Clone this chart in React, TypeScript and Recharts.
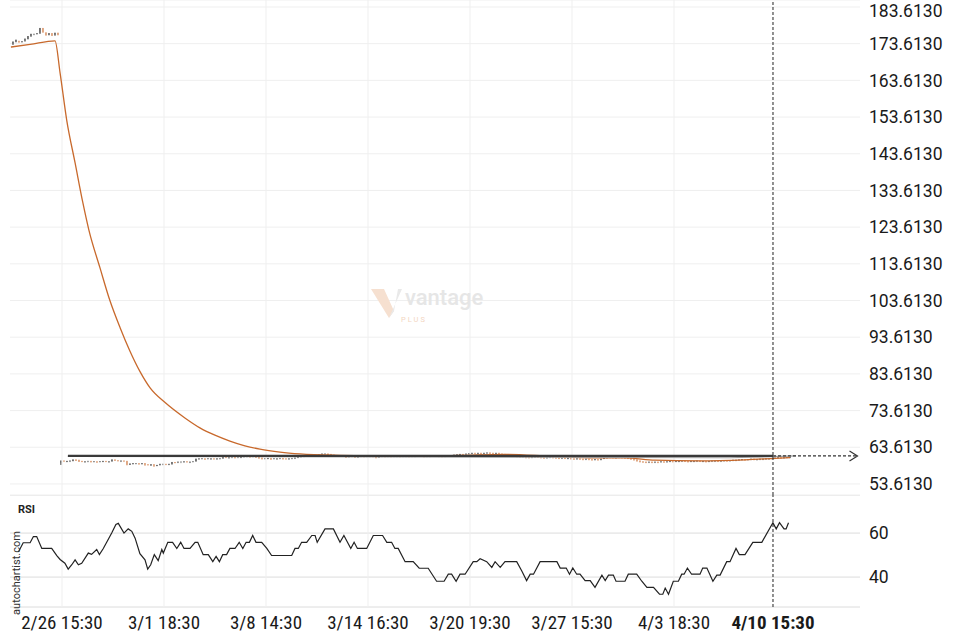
import React from "react";
import {
  ComposedChart,
  Bar,
  Line,
  XAxis,
  YAxis,
  CartesianGrid,
  ReferenceLine,
  ReferenceDot,
} from "recharts";

// hourly bars, index 1..260; axis runs a bit past the last bar for the projection
const barSpan = 283.33;
const lastBar = 254.33;

const timeTicks = [17.33, 51.33, 85.33, 119.33, 153.33, 187.33, 221.33, 254.33];
const timeLabels = [
  "2/26 15:30",
  "3/1 18:30",
  "3/8 14:30",
  "3/14 16:30",
  "3/20 19:30",
  "3/27 15:30",
  "4/3 18:30",
  "4/10 15:30",
];

const priceTicks = [
  53.613, 63.613, 73.613, 83.613, 93.613, 103.613, 113.613, 123.613, 133.613, 143.613, 153.613,
  163.613, 173.613, 183.613,
];
const priceDomain = [50.6, 185.52];

// opens of the first session, before the price gap
const firstOpens = [
  173.9, 174.2, 174.4, 174.1, 174.5, 174.9, 175.8, 176.2, 176.3, 176.6, 177.9, 176.7, 176.2, 176.5,
  176.1, 176.6,
];
const gapOpen = 59.4;

const closes = [
  174.2, 174.7, 174.1, 174.3, 175.0, 175.7, 176.3, 176.3, 176.5, 177.9, 176.8, 176.0, 176.5, 175.9,
  176.6, 176.1,
  60.0, 59.9, 59.9, 60.0, 60.3, 60.2, 59.9, 59.8, 59.8, 59.9,
  59.8, 59.8, 59.7, 59.8, 59.9, 59.8, 59.8, 60.3, 60.1, 60.0,
  60.0, 59.9, 58.9, 59.2, 59.3, 59.3, 59.2, 59.3, 59.0, 58.9,
  59.0, 58.6, 58.8, 59.1, 59.1, 59.0, 59.1, 59.6, 59.5, 59.7,
  59.7, 59.8, 59.7, 59.7, 59.8, 60.5, 60.6, 60.6, 60.5, 60.6,
  60.6, 60.5, 60.6, 60.6, 61.0, 60.9, 60.9, 61.0, 60.9, 61.0,
  61.0, 61.2, 61.2, 61.1, 61.2, 61.0, 60.8, 60.6, 60.6, 60.7,
  60.5, 60.6, 60.6, 60.7, 60.6, 60.5, 60.6, 60.7, 60.8, 61.0,
  61.2, 61.3, 61.5, 61.4, 61.5, 61.5, 61.7, 61.9, 61.9, 61.8,
  61.6, 61.5, 61.5, 61.4, 61.3, 61.1, 61.2, 61.3, 61.0, 61.1,
  61.3, 61.2, 61.3, 61.3, 61.2, 60.9, 61.1, 61.3, 61.2, 61.3,
  61.2, 61.3, 61.3, 61.2, 61.3, 61.3, 61.2, 61.3, 61.3, 61.4,
  61.3, 61.2, 61.3, 61.3, 61.4, 61.3, 61.3, 61.2, 61.3, 61.4,
  61.5, 61.6, 61.7, 61.8, 61.7, 61.9, 62.0, 62.1, 62.0, 62.1,
  61.9, 62.1, 62.2, 62.1, 62.0, 62.1, 61.9, 61.8, 61.7, 61.6,
  61.5, 61.3, 61.2, 61.1, 61.2, 61.0, 60.9, 61.0, 61.1, 61.0,
  60.9, 60.8, 60.9, 61.0, 60.9, 60.8, 60.7, 60.8, 60.7, 60.7,
  60.6, 60.5, 60.6, 60.5, 60.4, 60.5, 60.4, 60.3, 60.4, 60.3,
  60.5, 60.8, 60.9, 61.0, 60.9, 60.9, 61.0, 60.9, 60.8, 60.7,
  60.5, 60.3, 60.0, 59.8, 59.7, 59.6, 59.7, 59.6, 59.7, 59.6,
  59.8, 59.7, 59.8, 59.9, 59.8, 59.9, 59.9, 60.0, 59.9, 59.8,
  59.9, 59.9, 60.0, 59.9, 59.9, 59.8, 59.9, 60.0, 60.0, 59.9,
  60.0, 60.1, 60.0, 60.1, 60.2, 60.2, 60.3, 60.4, 60.3, 60.4,
  60.5, 60.4, 60.4, 60.5, 60.5, 60.6, 60.6, 60.7, 60.8, 60.9,
  60.8, 60.9, 61.0, 61.0,
];

const lows = [
  173.3, 174.0, 173.9, 174.0, 174.2, 174.8, 175.5, 176.1, 176.2, 176.3, 176.6, 175.8, 175.9, 175.7,
  175.8, 175.9,
  58.8, 59.7, 59.6, 59.7, 59.8, 59.9, 59.6, 59.6, 59.5, 59.7,
  59.5, 59.6, 59.4, 59.6, 59.6, 59.6, 59.5, 59.7, 59.9, 59.8,
  59.7, 59.7, 58.7, 58.8, 59.0, 59.1, 58.9, 59.0, 58.6, 58.7,
  58.6, 58.3, 58.5, 58.7, 58.9, 58.8, 58.8, 58.9, 59.3, 59.4,
  59.5, 59.5, 59.5, 59.4, 59.6, 59.7, 60.3, 60.4, 60.2, 60.4,
  60.3, 60.3, 60.3, 60.4, 60.5, 60.7, 60.6, 60.8, 60.6, 60.8,
  60.7, 60.9, 61.0, 60.8, 61.0, 60.7, 60.5, 60.3, 60.4, 60.4,
  60.2, 60.4, 60.3, 60.5, 60.3, 60.3, 60.3, 60.5, 60.5, 60.7,
  60.9, 61.0, 61.2, 61.1, 61.2, 61.3, 61.4, 61.6, 61.7, 61.5,
  61.3, 61.2, 61.3, 61.0, 61.0, 60.7, 60.9, 61.0, 60.7, 60.8,
  61.0, 60.9, 61.0, 61.1, 60.9, 60.6, 60.8, 61.0, 60.9, 61.1,
  60.9, 61.0, 61.1, 60.9, 61.0, 61.1, 60.9, 61.0, 61.1, 61.1,
  61.0, 60.9, 61.0, 61.1, 61.1, 61.0, 61.1, 60.9, 61.0, 61.2,
  61.2, 61.3, 61.4, 61.5, 61.5, 61.6, 61.7, 61.8, 61.8, 61.8,
  61.6, 61.8, 61.9, 61.8, 61.7, 61.8, 61.6, 61.5, 61.4, 61.3,
  61.2, 61.0, 60.9, 60.8, 60.9, 60.6, 60.6, 60.7, 60.8, 60.7,
  60.6, 60.5, 60.6, 60.7, 60.6, 60.5, 60.4, 60.5, 60.4, 60.4,
  60.3, 60.2, 60.3, 60.2, 60.1, 60.2, 60.1, 60.0, 60.1, 60.0,
  60.1, 60.4, 60.6, 60.7, 60.6, 60.6, 60.7, 60.6, 60.5, 60.4,
  60.2, 60.0, 59.7, 59.5, 59.4, 59.3, 59.4, 59.3, 59.4, 59.3,
  59.5, 59.4, 59.5, 59.6, 59.5, 59.6, 59.6, 59.7, 59.6, 59.5,
  59.6, 59.6, 59.7, 59.6, 59.6, 59.5, 59.6, 59.7, 59.7, 59.6,
  59.7, 59.8, 59.7, 59.8, 59.9, 59.9, 60.0, 60.1, 60.0, 60.1,
  60.2, 60.1, 60.1, 60.2, 60.2, 60.3, 60.3, 60.4, 60.5, 60.6,
  60.5, 60.6, 60.7, 60.7,
];

// moving average (orange)
const emaBars = [
  0.3, 6.7, 15, 16.7, 18.9, 21.7, 24.3, 26.3, 30, 33.3, 36.7, 40, 43.3, 46.7, 51.7, 58.3, 63.3,
  68.3, 73.3, 78.3, 83.3, 90, 96.7, 110, 130, 150, 165, 180, 195, 205, 215, 230, 245, 255, 260,
];
const emaValues = [
  172.7, 173.4, 174.4, 165.6, 152.8, 141.1, 130.2, 122.8, 112.5, 103.6, 96.2, 89.8, 84.3, 79.8,
  75.8, 71.6, 68.9, 66.9, 65.3, 64.0, 63.1, 62.3, 61.8, 61.4, 61.2, 61.4, 61.7, 61.2, 60.7, 60.7,
  60.1, 59.9, 60.2, 60.6, 60.8,
];

// resistance line + projection
const trendLevel = 61.25;
const trendStart = 19.3;
const trendEnd = 282.5;
const supportBars = [19.3, 240, 262];
const supportValues = [61.15, 60.75, 61.25];

const rsiBars = [
  2.8, 4.4, 6.7, 7.8, 8.9, 10.6, 13.9, 15.6, 16.7, 18.3,
  19.4, 20.6, 21.7, 22.8, 23.9, 26.1, 27.2, 28.9, 29.8, 31.1,
  33.9, 35.3, 36.1, 38.0, 39.4, 40.6, 41.7, 43.3, 45.0, 45.9,
  46.9, 48.1, 49.4, 50.6, 51.1, 52.6, 54.2, 55.6, 56.9, 58.0,
  60.0, 61.7, 62.6, 64.4, 66.1, 67.6, 68.7, 69.8, 70.9, 72.2,
  73.3, 75.0, 76.4, 77.6, 78.7, 79.8, 80.9, 82.0, 83.9, 85.6,
  87.2, 93.9, 95.0, 96.1, 97.2, 98.9, 100.6, 101.7, 102.4, 105.0,
  107.8, 110.0, 111.3, 113.6, 114.7, 115.8, 118.9, 121.1, 124.2, 125.6,
  127.2, 128.3, 129.4, 131.7, 134.4, 136.4, 139.4, 142.2, 144.7, 146.1,
  147.2, 148.7, 150.0, 151.7, 154.4, 155.6, 156.7, 158.9, 160.6, 161.7,
  163.4, 165.0, 168.9, 170.6, 172.2, 173.4, 174.5, 176.7, 182.3, 183.4,
  185.4, 186.5, 187.6, 188.9, 190.0, 191.7, 193.4, 195.0, 197.3, 198.4,
  199.5, 201.1, 202.0, 205.0, 206.1, 208.9, 210.6, 212.3, 214.5, 216.5,
  217.6, 218.4, 219.5, 221.1, 222.8, 223.9, 224.7, 225.8, 227.2, 230.0,
  230.9, 232.3, 234.3, 235.6, 236.7, 238.9, 240.0, 242.0, 243.1, 245.0,
  247.6, 250.6, 254.3, 255.4, 256.5, 258.0, 258.7, 259.5,
];
const rsiValues = [
  51.4, 55.6, 55.6, 58.4, 58.4, 53.0, 53.0, 49.8, 48.0, 46.3,
  43.6, 45.6, 47.8, 45.6, 46.3, 50.9, 50.3, 52.5, 50.2, 53.0,
  60.0, 63.9, 64.4, 60.0, 61.9, 60.8, 57.7, 50.6, 47.8, 43.6,
  45.6, 50.2, 47.5, 52.5, 50.9, 55.8, 55.8, 53.0, 55.8, 53.0,
  53.0, 55.8, 55.8, 50.2, 50.2, 47.0, 49.4, 47.0, 50.2, 50.2,
  53.0, 53.0, 55.8, 53.0, 55.8, 55.8, 58.9, 55.8, 55.8, 53.0,
  49.8, 49.8, 53.0, 53.0, 55.8, 55.8, 58.9, 58.9, 55.8, 61.9,
  61.9, 55.8, 58.9, 53.0, 55.8, 53.0, 53.0, 58.9, 58.9, 55.8,
  55.8, 53.0, 53.0, 47.0, 47.0, 44.0, 44.0, 38.1, 38.1, 41.3,
  41.3, 38.1, 41.3, 41.3, 47.0, 47.0, 48.3, 47.0, 44.4, 47.0,
  44.4, 47.0, 47.0, 42.8, 38.4, 41.3, 41.3, 47.0, 47.0, 44.1,
  44.1, 41.3, 44.1, 41.3, 41.3, 38.4, 38.4, 35.3, 40.9, 38.4,
  40.9, 40.9, 38.1, 38.1, 41.3, 41.3, 38.1, 35.3, 35.3, 32.2,
  32.2, 35.0, 32.2, 38.1, 38.1, 41.3, 41.3, 44.1, 41.3, 41.3,
  44.1, 44.1, 38.1, 40.9, 40.9, 47.0, 47.0, 53.0, 50.2, 50.2,
  55.8, 55.8, 64.7, 61.9, 64.7, 61.9, 61.9, 64.7,
];
const rsiTicks = [40, 60];
const rsiDomain = [26.4, 77.3];

const candles = closes.map((close, k) => {
  const open =
    k < firstOpens.length ? firstOpens[k] : k === firstOpens.length ? gapOpen : closes[k - 1];
  const high = Math.max(open, close);
  const low = Math.min(lows[k], open, close);
  return { bar: k + 1, open, close, high, low };
});
const emaRows = emaBars.map((bar, k) => ({ bar, value: emaValues[k] }));
const trendRows = [
  { bar: trendStart, value: trendLevel },
  { bar: lastBar, value: trendLevel },
];
const projectionRows = [
  { bar: lastBar, value: trendLevel },
  { bar: trendEnd, value: trendLevel },
];
const supportRows = supportBars.map((bar, k) => ({ bar, value: supportValues[k] }));
const rsiRows = rsiBars.map((bar, k) => ({ bar, value: rsiValues[k] }));

const UP = "#111111";
const DOWN = "#c8692c";
const GRID = "#efefef";
const FONT = "Roboto, 'Noto Sans', sans-serif";
const NARROW = "'Liberation Sans Narrow', 'Roboto Condensed', 'Arial Narrow', Roboto, sans-serif";

const Candle = (props: any) => {
  const { x, y, width, height, payload } = props;
  if (!payload || !height) return null;
  const { open, close, high, low } = payload;
  const ppu = height / (high - low);
  const yOpen = y + (high - open) * ppu;
  const yClose = y + (high - close) * ppu;
  const color = close >= open ? UP : DOWN;
  const top = Math.min(yOpen, yClose);
  const bodyH = Math.max(1.6, Math.abs(yOpen - yClose));
  const cx = x + width / 2;
  return (
    <g>
      <line x1={cx} x2={cx} y1={y} y2={y + height} stroke={color} strokeWidth={1} />
      <rect x={x} y={top} width={width} height={bodyH} fill={color} />
    </g>
  );
};

const Arrow = (props: any) => {
  const { cx, cy } = props;
  return (
    <path
      d={`M${cx - 8},${cy - 5} L${cx},${cy} L${cx - 8},${cy + 5}`}
      fill="none"
      stroke="#333"
      strokeWidth={1.2}
    />
  );
};

const TimeTick = (props: any) => {
  const { x, y, payload } = props;
  const idx = timeTicks.indexOf(payload.value);
  const isLast = idx === timeLabels.length - 1;
  return (
    <text
      x={x}
      y={y}
      dy={22}
      textAnchor="middle"
      fontFamily={NARROW}
      fontSize={19}
      fontWeight={isLast ? 700 : 400}
      fill="#1a1a1a"
    >
      {timeLabels[idx]}
    </text>
  );
};

const axisTick = { fontSize: 17.5, fill: "#1a1a1a", fontFamily: FONT };

const VerticalGrid = () =>
  timeTicks.slice(0, -1).map((t) => <ReferenceLine key={`vg-${t}`} x={t} stroke={GRID} />);

const Overlay = () => (
  <svg
    width={960}
    height={640}
    style={{ position: "absolute", left: 0, top: 0, pointerEvents: "none" }}
  >
    {/* watermark */}
    <polygon points="371,289 384,289 394,311 389,318" fill="#f6e0d0" />
    <polygon points="389,318 394,311 398,289 402,289" fill="#e9e9e9" />
    <text x={405} y={305} fontFamily={FONT} fontSize={22} fontWeight={500} fill="#e6e6e6">
      vantage
    </text>
    <text x={401} y={322} fontFamily={FONT} fontSize={7.5} letterSpacing={2} fill="#f3d6c2">
      PLUS
    </text>
    <text x={18} y={513} fontFamily={FONT} fontSize={11} fontWeight={700} fill="#222">
      RSI
    </text>
    <text
      transform="translate(20,573) rotate(-90)"
      textAnchor="middle"
      fontFamily={FONT}
      fontSize={11}
      fill="#333"
    >
      autochartist.com
    </text>
  </svg>
);

export default function App() {
  return (
    <div style={{ position: "absolute", left: 0, top: 0, width: 960, height: 640, background: "#fff" }}>
      <div style={{ position: "absolute", left: 0, top: 0 }}>
        <ComposedChart
          width={960}
          height={495}
          data={candles}
          margin={{ top: 0, right: 0, bottom: 0, left: 10 }}
        >
          <CartesianGrid vertical={false} stroke={GRID} />
          <XAxis type="number" dataKey="bar" domain={[0, barSpan]} hide allowDataOverflow />
          <YAxis
            orientation="right"
            type="number"
            domain={priceDomain}
            ticks={priceTicks}
            tickFormatter={(v: number) => v.toFixed(4)}
            axisLine={false}
            tickLine={false}
            tickSize={0}
            tickMargin={9}
            width={100}
            tick={axisTick}
            allowDataOverflow
          />
          {VerticalGrid()}
          <Bar
            dataKey={(d: any) => [d.low, d.high]}
            shape={<Candle />}
            barSize={3}
            isAnimationActive={false}
          />
          <Line
            data={emaRows}
            dataKey="value"
            type="monotone"
            stroke={DOWN}
            strokeWidth={1.3}
            dot={false}
            isAnimationActive={false}
          />
          <Line
            data={supportRows}
            dataKey="value"
            type="linear"
            stroke="#9a9a9a"
            strokeWidth={1.2}
            dot={false}
            isAnimationActive={false}
          />
          <Line
            data={trendRows}
            dataKey="value"
            type="linear"
            stroke="#3a3a3a"
            strokeWidth={2.2}
            dot={false}
            isAnimationActive={false}
          />
          <Line
            data={projectionRows}
            dataKey="value"
            type="linear"
            stroke="#333"
            strokeWidth={1.2}
            strokeDasharray="3 2"
            dot={false}
            isAnimationActive={false}
          />
          <ReferenceDot x={trendEnd} y={trendLevel} shape={<Arrow />} />
          <ReferenceLine x={lastBar} stroke="#222" strokeDasharray="3 2" />
        </ComposedChart>
      </div>
      <div style={{ position: "absolute", left: 0, top: 495 }}>
        <ComposedChart
          width={960}
          height={145}
          data={rsiRows}
          margin={{ top: 0, right: 0, bottom: 0, left: 10 }}
        >
          <CartesianGrid vertical={false} stroke="#dcdcdc" />
          <XAxis
            type="number"
            dataKey="bar"
            domain={[0, barSpan]}
            ticks={timeTicks}
            interval={0}
            tick={<TimeTick />}
            axisLine={false}
            tickLine={false}
            tickSize={0}
            tickMargin={0}
            height={33}
            allowDataOverflow
          />
          <YAxis
            orientation="right"
            type="number"
            domain={rsiDomain}
            ticks={rsiTicks}
            axisLine={false}
            tickLine={false}
            tickSize={0}
            tickMargin={9}
            width={100}
            tick={axisTick}
            allowDataOverflow
          />
          {VerticalGrid()}
          <Line
            dataKey="value"
            type="linear"
            stroke="#222"
            strokeWidth={1.2}
            dot={false}
            isAnimationActive={false}
          />
          <ReferenceLine x={lastBar} stroke="#222" strokeDasharray="3 2" />
        </ComposedChart>
      </div>
      <Overlay />
    </div>
  );
}
